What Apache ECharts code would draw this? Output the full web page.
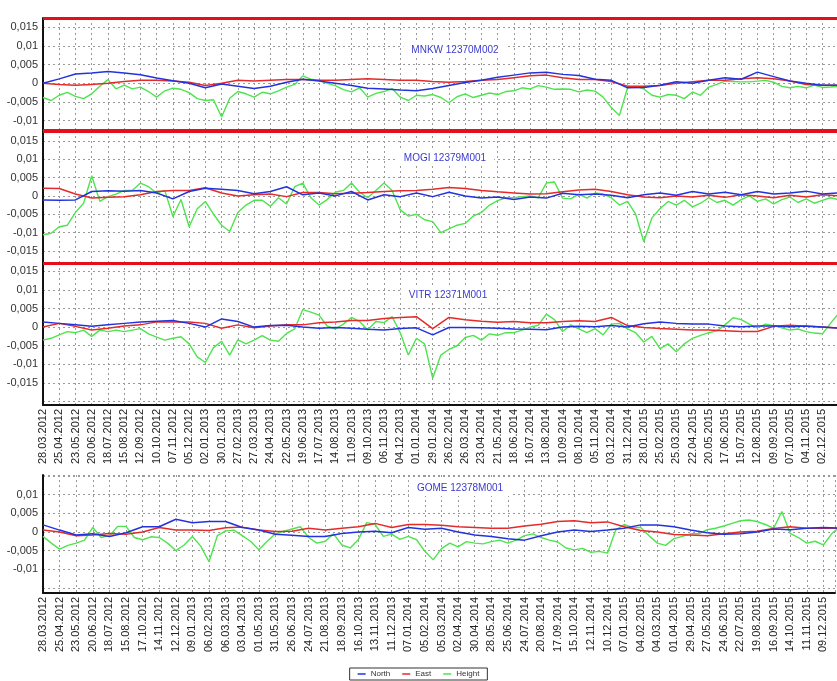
<!DOCTYPE html>
<html>
<head>
<meta charset="utf-8">
<script src="https://cdn.jsdelivr.net/npm/echarts@6/dist/echarts.min.js"></script>
<style>
  html, body { margin: 0; padding: 0; background: #fff; }
  #chart { width: 837px; height: 681px; }
</style>
</head>
<body>
<div id="chart"></div>
<script>
// station names, one per panel
const stations = ['MNKW 12370M002', 'MOGI 12379M001', 'VITR 12371M001', 'GOME 12378M001']

// x tick labels, one every 2 steps of the x scale
const datesTop = ['28.03.2012','25.04.2012','23.05.2012','20.06.2012','18.07.2012','15.08.2012','12.09.2012','10.10.2012','07.11.2012','05.12.2012',
  '02.01.2013','30.01.2013','27.02.2013','27.03.2013','24.04.2013','22.05.2013','19.06.2013','17.07.2013','14.08.2013','11.09.2013',
  '09.10.2013','06.11.2013','04.12.2013','01.01.2014','29.01.2014','26.02.2014','26.03.2014','23.04.2014','21.05.2014','18.06.2014',
  '16.07.2014','13.08.2014','10.09.2014','08.10.2014','05.11.2014','03.12.2014','31.12.2014','28.01.2015','25.02.2015','25.03.2015',
  '22.04.2015','20.05.2015','17.06.2015','15.07.2015','12.08.2015','09.09.2015','07.10.2015','04.11.2015','02.12.2015','30.12.2015']
const datesGome = ['28.03.2012','25.04.2012','23.05.2012','20.06.2012','18.07.2012','15.08.2012','17.10.2012','14.11.2012','12.12.2012',
  '09.01.2013','06.02.2013','06.03.2013','03.04.2013','01.05.2013','31.05.2013','26.06.2013','24.07.2013','21.08.2013','18.09.2013','16.10.2013','13.11.2013','11.12.2013',
  '07.01.2014','05.02.2014','05.03.2014','02.04.2014','30.04.2014','28.05.2014','25.06.2014','24.07.2014','20.08.2014','17.09.2014','15.10.2014','12.11.2014','10.12.2014',
  '07.01.2015','04.02.2015','04.03.2015','01.04.2015','29.04.2015','27.05.2015','24.06.2015','22.07.2015','19.08.2015','16.09.2015','14.10.2015','11.11.2015','09.12.2015']

// displacements in mm. North / East: one value per tick label, Height: one value per half step
const mnkwNorth = [0, 1.2, 2.5, 2.8, 3.2, 2.8, 2.3, 1.4, 0.7, 0, -1.2, -0.2, -0.8, -1.4, -0.8, 0.3, 1.1, 0.6, 0, -0.6,
  -1.3, -1.5, -1.8, -2, -1.4, -0.6, 0.2, 0.8, 1.6, 2.2, 2.8, 3, 2.4, 2.1, 1.1, 0.8, -1.2, -1.1, -0.5, 0.4,
  0, 0.8, 1.5, 1.1, 3, 1.8, 0.6, 0, -0.5, -0.5]
const mnkwEast = [0, -0.3, -0.5, -0.3, 0, 0.5, 0.8, 0.8, 0.6, 0.3, -0.6, 0, 0.8, 0.6, 0.8, 1, 1, 0.8, 0.8, 1,
  1.2, 1, 0.8, 0.8, 0.5, 0.3, 0.5, 0.8, 1, 1.5, 2, 2.2, 1.5, 1, 1, 0.5, -0.8, -0.8, -0.6, 0,
  0.4, 0.8, 0.8, 1.2, 1.5, 1.2, 0.6, -0.3, -0.5, -0.5]
const mnkwHeight = [-3.8, -4.6, -3.2, -2.4, -3.5, -4.1, -2.8, -0.8, 1, -1.5, -0.5, -1.5, -1, -2.2, -3.7, -2, -1.3, -1.6, -2.5, -4.1,
  -4.6, -4.4, -9, -4, -2.2, -2.8, -3.7, -2.4, -2.8, -2, -1, -0.3, 2, 1.1, 0.8, 0, -0.6, -1.7, -2.3, -1.2,
  -3.7, -2.7, -2.2, -1.4, -3.7, -4.6, -3.2, -3.4, -3, -3.8, -5.2, -3.6, -2.8, -3.8, -3.2, -2.6, -3, -2.2, -2, -1.2,
  -1.5, -0.6, -1, -1.6, -1.5, -1.6, -2.3, -1.8, -2.1, -3.7, -6.5, -8.6, -1.2, -0.8, -1.5, -3.2, -3.7, -3, -3.2, -4.1,
  -2.3, -3.2, -1, -0.3, 0.6, 0.5, 0.4, 0.4, 0.6, 0.8, 0.3, -0.8, -1.2, -0.8, -1.2, -0.5, -1.1, -1, -0.8]

const mogiNorth = [-1.1, -1.2, -1.1, 1.2, 1.4, 1.3, 1.5, 0.8, -0.8, 1.2, 2.1, 1.8, 1.5, 0.6, 1.2, 2.5, 0.3, 0.8, 0, 1.2,
  -1.1, 0.3, -0.2, 0.8, -0.2, 1, 0, -0.6, -0.3, -1, -0.3, -0.6, 0.7, 0.3, 0.5, 0.2, -0.5, 0.3, 0.8, 0.2,
  1.2, 0.5, 1, 0.3, 1.2, 0.5, 0.8, 1.3, 0.5, 0.8]
const mogiEast = [2.1, 2, 0.5, -0.6, -0.4, -0.2, 0.3, 1.2, 1.5, 1.5, 2.2, 0.8, 0, 0.3, 0.5, -0.2, 0.9, 0.9, 0.6, 0.7,
  0.9, 1.2, 1.4, 1.5, 1.8, 2.3, 2, 1.5, 1.1, 0.8, 0.5, 0.6, 1.1, 1.6, 1.8, 1.2, 0.3, -0.3, -0.5, 0,
  -0.3, 0.2, -0.4, 0.3, 0, -0.5, 0.2, -0.3, 0.3, 0]
const mogiHeight = [-10.6, -10.2, -8.4, -8, -4.5, -2, 5.5, -1.5, -0.2, 0.5, 1.5, 1.5, 3.5, 2.5, 0.8, 1.5, -5.6, -1, -8.4, -3.5,
  -1.5, -5, -8, -9.7, -4.5, -2.5, -1.2, -1.2, -2.8, -0.5, -2.2, 2.5, 3.5, -0.5, -2.5, -1, 1, 1.5, 3.5, 1,
  -0.5, 1.5, 3.5, 1.5, -3.8, -5.5, -5, -6.5, -7, -10, -9, -8, -7.5, -5.5, -4.5, -2.5, -1.3, -0.5, -0.5, -0.2,
  0, -0.5, 3.5, 3.8, -0.6, -0.8, 0.5, -0.6, 0.8, 0.5, -0.5, -2.5, -1.5, -5, -12.5, -6, -3.5, -1.5, -2.5, -1.2,
  -3, -2, -0.5, -1.8, -1.2, -2.5, -1, 0, -1.5, -0.8, -2.2, -1, -0.3, -1.8, -0.8, -2, -1.2, -0.5, -1]

const vitrNorth = [1.4, 1, 0.6, 0.2, 0.6, 1, 1.4, 1.6, 1.8, 1, 0, 2.2, 1.5, 0, 0.4, 0.5, 0, -0.3, -0.1, -0.3,
  -0.6, -0.8, -0.4, -0.2, -2.1, -0.1, -0.1, -0.2, -0.3, -0.5, -0.6, -0.7, 0, 0.2, 0.1, 0.4, 0, 0.9, 1.4, 1,
  0.8, 0.8, 0.3, 0.1, 0.3, 0.3, 0.1, 0.3, 0, -0.3]
const vitrEast = [0, 1, 0.2, -0.8, -0.3, 0.3, 0.6, 1.4, 1.4, 1.4, 1, -0.3, 0.6, -0.2, 0.3, 0.6, 0.6, 1.2, 1.4, 1.8,
  1.8, 2.3, 2.6, 2.8, -0.4, 2.6, 2, 1.6, 1.3, 1.5, 1.2, 1.2, 1.5, 1.7, 1.5, 2.6, 0.4, -0.1, -0.4, -0.6,
  -0.8, -0.8, -1, -1.2, -1.2, 0.2, 0.5, 0.2, 0, -0.3]
const vitrHeight = [-3.5, -3, -2.1, -1.2, -1.5, -0.8, -2.5, -0.8, -1.2, -0.8, -1.2, -0.8, -0.4, -1.8, -2.7, -3.5, -3, -2.6, -4.5, -8,
  -9.5, -5.5, -3.8, -7.5, -3.4, -4.5, -3.5, -2.3, -3.5, -3.8, -1.7, -0.5, 4.7, 4, 3.2, 0.3, -0.5, 0.8, 2.6, 1.5,
  -0.8, 1.5, 1.2, 2.8, -1.5, -7.5, -3, -4.5, -13.7, -7.5, -6, -5, -2.8, -2.2, -3.5, -1.8, -2.2, -1.5, -1.5, -0.8,
  0, 0.5, 3.5, 2, -1.2, 0.6, -0.5, -1.5, -0.4, -2.1, 0.8, 1, -0.5, -1.5, -4, -2.5, -5.8, -4.5, -6.6, -4.5,
  -3, -2.2, -1.5, -1, 0.6, 2.5, 2, 0.8, -0.2, 0.8, 0.4, -0.2, -0.8, -0.5, -1.2, -1.6, -1.8, 1, 3.7]

const gomeNorth = [1.9, 0.5, -0.8, -0.5, -1.2, -0.2, 1.4, 1.4, 3.4, 2.5, 2.8, 2.8, 1.2, 0.5, -0.6, -0.9, -1.2, -1.2, -0.4, 0,
  0.2, -0.2, 1.2, 0.7, 1, 0, -0.8, -1.2, -1.8, -2.2, -1, 0, 0.5, 0.1, 0.5, 1, 1.9, 1.9, 1.4, 0.5,
  -0.2, -0.6, -0.5, 0, 0.8, 0.6, 1, 1.2, 1]
const gomeEast = [0.5, 0, -1, -0.8, -0.4, -0.6, 0, 1.2, 0.5, 0.5, 0.4, 1.1, 1.3, 0.5, 0.1, 0.2, 1, 0.5, 1, 1.4,
  2.3, 1.2, 2, 2, 1.8, 1.4, 1.2, 1, 1, 1.6, 2.1, 2.8, 3, 2.5, 2.7, 1.4, 0.4, 0, -0.7, -0.8,
  -1, -0.5, 0, 0.2, 0.9, 1.4, 1, 1, 1]
const gomeHeight = [-1.2, -3, -4.6, -3.6, -3, -2.2, 1.2, -1.5, -1, 1.5, 1.5, -1.5, -2.1, -1.3, -1.5, -3, -5, -3.5, -1.2, -3.8,
  -8, -1, 0.3, 0.5, -1, -2.5, -4.8, -2.5, -0.5, 0.2, 0.8, 1.4, -1.5, -3, -2.5, -0.5, -3.5, -4.3, -2, 2.5,
  2, -1.2, -0.6, -2, -1.2, -2.1, -5.2, -7.5, -4.5, -3, -4, -2.6, -3, -3.2, -2.6, -2.2, -3, -2.2, -1, -0.5,
  -1.5, -2.2, -2.7, -4.3, -4.8, -4.4, -5.5, -5.2, -5.7, 0.6, 2, 1.2, 1.2, -1, -3, -3.6, -1.8, -1.2, -0.5, -0.5,
  0.6, 1, 1.6, 2.3, 3, 3.2, 2.8, 2, 1, 5.5, -0.4, -1.5, -3, -2.5, -3.5, -0.5, 1.5]

const panels = [
  { north: mnkwNorth, east: mnkwEast, height: mnkwHeight },
  { north: mogiNorth, east: mogiEast, height: mogiHeight },
  { north: vitrNorth, east: vitrEast, height: vitrHeight },
  { north: gomeNorth, east: gomeEast, height: gomeHeight }
]

const font = "'Liberation Sans', Arial, sans-serif"
const colors = { North: '#2233dd', East: '#e42a2a', Height: '#4ee44e' }

// layout of the four panels (px) and their value range (mm)
const grids = [
  { left: 43, right: 0, top: 18, height: 112 },
  { left: 43, right: 0, top: 131, height: 132 },
  { left: 43, right: 0, top: 263, height: 142 },
  { left: 43, right: 2, top: 475, height: 118 }
]
const yRanges = [[-12.5, 17.5], [-18.3, 17.7], [-20.9, 17.2], [-16.4, 15.3]]
const labelRanges = [[-10, 15], [-15, 15], [-15, 15], [-10, 10]]
const titlePos = [[455, 50], [445, 158], [448, 295], [460, 488]]

// mm -> "0,005" style label
const fmtY = (v, lo, hi) => {
  if (Math.abs(v % 5) > 1e-6 || v < lo - 1e-6 || v > hi + 1e-6) return ''
  if (Math.abs(v) < 1e-9) return '0'
  return String(+(v / 1000).toFixed(3)).replace('.', ',')
}

const redLine = (lo, hi) => ({
  silent: true,
  symbol: 'none',
  label: { show: false },
  lineStyle: { color: '#e3101c', width: 3, type: 'solid' },
  data: [{ yAxis: hi }, { yAxis: lo }]
})

const makeSeries = (name, arr, step, idx, extra) => Object.assign({
  name,
  type: 'line',
  xAxisIndex: idx,
  yAxisIndex: idx,
  data: arr.map((v, i) => [i * step, v]),
  symbol: 'none',
  z: name === 'Height' ? 2 : 3,
  lineStyle: { color: colors[name], width: name === 'Height' ? 1.4 : 1.5 },
  itemStyle: { color: colors[name] }
}, extra || {})

const series = []
panels.forEach((p, i) => {
  series.push(makeSeries('Height', p.height, 1, i))
  series.push(makeSeries('East', p.east, 2, i))
  series.push(makeSeries('North', p.north, 2, i,
    i < 2 ? { markLine: redLine(yRanges[i][0], yRanges[i][1]) } : {}))
})

const chart = echarts.init(document.getElementById('chart'))
chart.setOption({
  animation: false,
  backgroundColor: '#fff',
  grid: grids,
  xAxis: grids.map((g, i) => ({
    gridIndex: i,
    type: 'value',
    min: 0,
    max: i === 3 ? 95.4 : 97.8,
    interval: 2,
    axisLine: { show: i >= 2, onZero: false, lineStyle: { color: '#111', width: 2 } },
    axisTick: { show: false },
    axisLabel: {
      show: i >= 2,
      rotate: 90,
      margin: 4,
      fontSize: 11,
      fontFamily: font,
      color: '#222',
      formatter: v => (i === 3 ? datesGome : datesTop)[v / 2] || ''
    },
    splitLine: { show: true, lineStyle: { color: '#9a9a9a', width: 1, type: [2, 3] } }
  })),
  yAxis: yRanges.map((r, i) => ({
    gridIndex: i,
    type: 'value',
    min: r[0],
    max: r[1],
    minInterval: 5,
    maxInterval: 5,
    axisLine: { show: true, onZero: false, lineStyle: { color: '#111', width: 2 } },
    axisTick: { show: false },
    axisLabel: {
      margin: 5,
      fontSize: 11,
      fontFamily: font,
      color: '#333',
      formatter: v => fmtY(v, labelRanges[i][0], labelRanges[i][1])
    },
    splitLine: { show: true, lineStyle: { color: '#9a9a9a', width: 1, type: [2, 3] } }
  })),
  legend: {
    data: ['North', 'East', 'Height'],
    bottom: 1,
    left: 'center',
    icon: 'rect',
    itemWidth: 8,
    itemHeight: 1.5,
    itemGap: 12,
    padding: [2, 8],
    borderColor: '#333',
    borderWidth: 1,
    textStyle: { fontSize: 8, fontFamily: font, color: '#333' }
  },
  graphic: stations.map((s, i) => ({
    type: 'text',
    x: titlePos[i][0],
    y: titlePos[i][1],
    z: 10,
    style: {
      text: s,
      fill: '#3a3acc',
      font: '10px ' + font,
      align: 'center',
      verticalAlign: 'middle',
      backgroundColor: '#fff',
      padding: [3, 8]
    }
  })),
  series
})
</script>
</body>
</html>
